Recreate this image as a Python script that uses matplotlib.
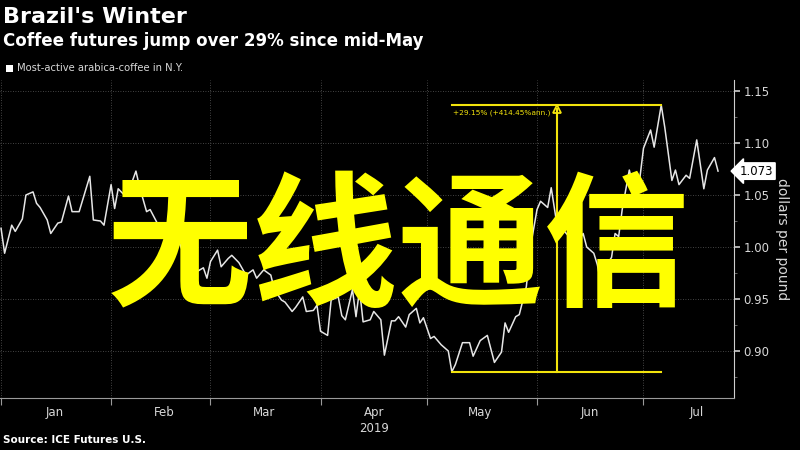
import numpy as np
import pandas as pd
import matplotlib
matplotlib.use('Agg')
import matplotlib.pyplot as plt
import matplotlib.dates as mdates

# days since 2019-01-01 and price (dollars per pound)
day_offsets = [0, 1, 3, 4, 6, 7, 9, 10, 11, 13, 14, 16, 17, 19, 20, 22, 25, 26, 28, 29,
               31, 32, 33, 35, 36, 38, 39, 41, 42, 44, 45, 47, 48, 50, 51, 52, 54, 55, 57, 58,
               59, 61, 62, 64, 65, 67, 69, 71, 72, 74, 76, 77, 79, 80, 82, 83, 85, 86, 88, 89,
               90, 92, 93, 95, 96, 97, 99, 100, 101, 102, 104, 105, 107, 108, 110, 111, 112, 114, 115, 117,
               118, 119, 121, 122, 124, 126, 127, 128, 130, 132, 133, 135, 137, 139, 141, 142, 143, 145, 146, 148,
               149, 151, 152, 154, 155, 157, 158, 160, 162, 164, 165, 167, 168, 169, 170, 172, 173, 174, 175, 177,
               178, 180, 181, 183, 184, 186, 187, 189, 190, 191, 193, 194, 196, 198, 199, 201, 202]
prices = [1.018, 0.994, 1.021, 1.015, 1.027, 1.050, 1.053, 1.042, 1.038, 1.026,
          1.013, 1.023, 1.024, 1.049, 1.034, 1.034, 1.068, 1.026, 1.025, 1.021,
          1.060, 1.037, 1.056, 1.049, 1.054, 1.073, 1.058, 1.034, 1.036, 1.023,
          1.016, 1.009, 1.013, 1.007, 0.997, 0.986, 0.989, 0.976, 0.980, 0.970,
          0.986, 0.997, 0.981, 0.989, 0.992, 0.985, 0.973, 0.978, 0.970, 0.978,
          0.973, 0.959, 0.949, 0.947, 0.938, 0.942, 0.952, 0.938, 0.939, 0.944,
          0.919, 0.915, 0.949, 0.952, 0.934, 0.930, 0.959, 0.933, 0.959, 0.928,
          0.930, 0.938, 0.930, 0.896, 0.929, 0.929, 0.933, 0.923, 0.935, 0.941,
          0.927, 0.932, 0.912, 0.914, 0.906, 0.900, 0.880, 0.887, 0.908, 0.908,
          0.895, 0.910, 0.915, 0.889, 0.899, 0.927, 0.918, 0.933, 0.935, 0.962,
          0.997, 1.036, 1.044, 1.038, 1.057, 1.013, 1.018, 1.010, 1.002, 1.013,
          1.000, 0.994, 0.983, 0.965, 0.980, 0.990, 1.013, 1.010, 1.036, 1.074,
          1.060, 1.067, 1.095, 1.1125, 1.096, 1.1365, 1.115, 1.064, 1.074, 1.060,
          1.069, 1.066, 1.103, 1.056, 1.074, 1.086, 1.073]

month_labels = ['Jan', 'Feb', 'Mar', 'Apr', 'May', 'Jun', 'Jul']
y_ticks = [0.90, 0.95, 1.00, 1.05, 1.10, 1.15]
change_text = '+29.15% (+414.45%ann.)'
watermark = '无线通信'

base = pd.Timestamp('2019-01-01')
dates = base + pd.to_timedelta(day_offsets, unit='D')
x = mdates.date2num(dates)
x0 = mdates.date2num(base)

YELLOW = '#f2e30c'
GRID = '#5a5a5a'
TXT = '#d8d8d8'

fig = plt.figure(figsize=(8, 4.5), dpi=100, facecolor='black')
ax = fig.add_axes([0, 1 - 398 / 450, 734 / 800, 318 / 450], facecolor='black')

ax.plot(x, prices, color='#e6e6e6', lw=1.1, zorder=3)

ax.set_xlim(x0 - 0.3, x0 + 206.5)
ax.set_ylim(0.8548, 1.1606)

# month boundaries as major ticks, labels centred on mid-month
starts = [mdates.date2num(pd.Timestamp(2019, m, 1)) for m in range(1, 8)]
mids = [mdates.date2num(pd.Timestamp(2019, m, 16)) for m in range(1, 8)]
ax.set_xticks(starts)
ax.set_xticklabels([])
ax.set_xticks(mids, minor=True)
ax.set_xticklabels(month_labels, minor=True)
ax.tick_params(axis='x', which='major', length=5, color='#9a9a9a', direction='out')
ax.tick_params(axis='x', which='minor', length=0, pad=6, labelsize=8.5, labelcolor=TXT)

ax.yaxis.tick_right()
ax.set_yticks(y_ticks)
ax.set_yticklabels(['%.2f' % v for v in y_ticks])
ax.set_yticks(np.arange(0.875, 1.16, 0.05), minor=True)
ax.tick_params(axis='y', which='major', length=4, width=1.2, color='#cfcfcf',
               labelsize=8.5, labelcolor=TXT, pad=3)
ax.tick_params(axis='y', which='minor', length=2, color='#777777')

ax.grid(True, which='major', color=GRID, ls=(0, (1, 2)), lw=0.6)
for s in ['top', 'left']:
    ax.spines[s].set_visible(False)
ax.spines['right'].set_color('#cfcfcf')
ax.spines['bottom'].set_color('#9a9a9a')

ax.yaxis.set_label_position('right')
ax.set_ylabel('dollars per pound', rotation=-90, color=TXT, fontsize=10, labelpad=14)

ax.text(mids[3], -0.095, '2019', transform=ax.get_xaxis_transform(),
        ha='center', va='center', color=TXT, fontsize=8.5)

# last value tag
last = prices[-1]
ax.text(1.008, last, '%.3f' % last, transform=ax.get_yaxis_transform(),
        ha='left', va='center', fontsize=8.5, color='black',
        bbox=dict(boxstyle='larrow,pad=0.15', fc='white', ec='white'))

# change annotation between the May low and the June high
i_lo = int(np.argmin(prices))
i_hi = int(np.argmax(prices))
lo, hi = prices[i_lo], prices[i_hi]
xa, xb = x[i_lo], x[i_hi]
xm = (xa + xb) / 2
ax.plot([xa, xb], [lo, lo], color=YELLOW, lw=1.5, zorder=4)
ax.plot([xa, xb], [hi, hi], color=YELLOW, lw=1.5, zorder=4)
ax.plot([xm, xm], [lo, hi - 0.004], color=YELLOW, lw=1.5, zorder=4)
ax.plot([xm], [hi - 0.004], marker='^', ms=6, mfc='none', mec=YELLOW, mew=1.3, zorder=5)
ax.text(xa + 0.3, hi - 0.007, change_text, color=YELLOW, fontsize=5.3,
        ha='left', va='center', zorder=5)

# headings
fig.text(3 / 800, 1 - 17 / 450, "Brazil's Winter", color='white', fontsize=16,
         fontweight='bold', ha='left', va='center')
fig.text(3 / 800, 1 - 41 / 450, 'Coffee futures jump over 29% since mid-May', color='white',
         fontsize=12, fontweight='bold', ha='left', va='center')
fig.patches.append(plt.Rectangle((6 / 800, 1 - 72 / 450), 7 / 800, 7 / 450,
                                 transform=fig.transFigure, fc='white', ec='none'))
fig.text(17 / 800, 1 - 68 / 450, 'Most-active arabica-coffee in N.Y.', color=TXT,
         fontsize=7.2, ha='left', va='center')
fig.text(3 / 800, 1 - 440 / 450, 'Source: ICE Futures U.S.', color='white', fontsize=7.5,
         fontweight='bold', ha='left', va='center')

# overlaid watermark
fig.text(399 / 800, 1 - 252 / 450, watermark, color='#ffff00', fontsize=105,
         fontweight='heavy', family=['Noto Sans CJK SC', 'DejaVu Sans'],
         ha='center', va='center', zorder=10)

fig.savefig('out.png', dpi=100, facecolor='black')
